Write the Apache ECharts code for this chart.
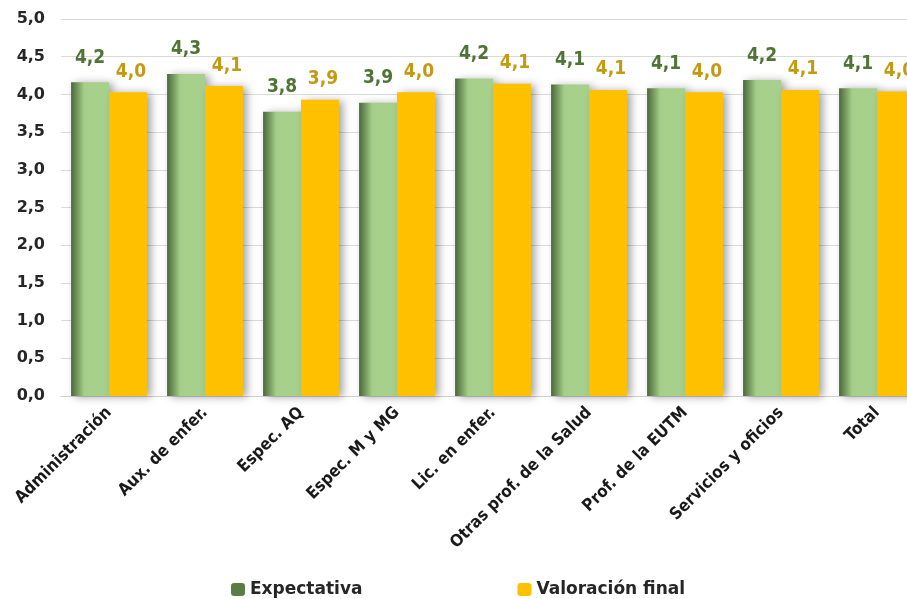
<!DOCTYPE html>
<html>
<head>
<meta charset="utf-8">
<script src="https://cdn.jsdelivr.net/npm/echarts@6/dist/echarts.min.js"></script>
<style>html,body{margin:0;padding:0;background:#fff}#c{width:907px;height:599px}</style>
</head>
<body>
<div id="c"></div>
<script>
const categories = ['Administración','Aux. de enfer.','Espec. AQ','Espec. M y MG','Lic. en enfer.','Otras prof. de la Salud','Prof. de la EUTM','Servicios y oficios','Total'];
const expectativa = [4.16, 4.27, 3.77, 3.89, 4.21, 4.13, 4.08, 4.19, 4.08];
const valoracionFinal = [4.03, 4.11, 3.93, 4.03, 4.14, 4.06, 4.03, 4.06, 4.04];
const yTicks = { min: 0, max: 5, interval: 0.5 };

const fmt = v => Number(v).toFixed(1).replace('.', ',');
const FONT = 'DejaVu Sans';
const FONT_C = 'DejaVu Sans Condensed';
const chart = echarts.init(document.getElementById('c'), null, { renderer: 'canvas' });
const shadow = { shadowBlur: 8, shadowOffsetX: 4, shadowOffsetY: 1, shadowColor: 'rgba(0,0,0,0.35)' };
chart.setOption({
  animation: false,
  backgroundColor: '#ffffff',
  grid: { left: 61, right: -18, top: 19, bottom: 203, containLabel: false, outerBoundsMode: 'none' },
  legend: {
    top: 576, left: 226, itemGap: 155, itemWidth: 14, itemHeight: 13,
    textStyle: { fontFamily: FONT, fontWeight: 'bold', fontSize: 17, color: '#262626' },
    data: [
      { name: 'Expectativa', itemStyle: { color: '#5a7d45', shadowBlur: 0, shadowOffsetX: 0, shadowOffsetY: 0 } },
      { name: 'Valoración final', itemStyle: { color: '#ffc000', shadowBlur: 0, shadowOffsetX: 0, shadowOffsetY: 0 } }
    ]
  },
  xAxis: {
    type: 'category', data: categories,
    axisLine: { lineStyle: { color: '#d0d0d0', width: 1 } },
    axisTick: { show: false },
    axisLabel: { rotate: 45, interval: 0, margin: 14, fontFamily: FONT_C, fontWeight: 'bold', fontSize: 16.8, color: '#1a1a1a' }
  },
  yAxis: {
    type: 'value', min: yTicks.min, max: yTicks.max, interval: yTicks.interval,
    axisLine: { show: false }, axisTick: { show: false },
    splitLine: { lineStyle: { color: '#d9d9d9', width: 1 } },
    axisLabel: { formatter: fmt, margin: 16, fontFamily: FONT, fontWeight: 'bold', fontSize: 16, color: '#262626' }
  },
  series: [
    {
      name: 'Expectativa', type: 'bar', data: expectativa, barGap: '0%', barCategoryGap: '21%',
      itemStyle: Object.assign({
        color: new echarts.graphic.LinearGradient(0, 0, 1, 0, [
          { offset: 0, color: '#4b6839' }, { offset: 0.35, color: '#a5cf8a' }, { offset: 1, color: '#a9d18e' }
        ])
      }, shadow),
      label: { show: true, position: 'top', distance: 15, formatter: p => fmt(p.value), fontFamily: FONT_C, fontWeight: 'bold', fontSize: 19, color: '#4e7536' }
    },
    {
      name: 'Valoración final', type: 'bar', data: valoracionFinal, barGap: '0%', barCategoryGap: '21%',
      itemStyle: Object.assign({ color: '#ffc000' }, shadow),
      label: { show: true, position: 'top', distance: 11, offset: [3, 0], formatter: p => fmt(p.value), fontFamily: FONT_C, fontWeight: 'bold', fontSize: 19, color: '#c49a14' }
    }
  ]
});
</script>
</body>
</html>
